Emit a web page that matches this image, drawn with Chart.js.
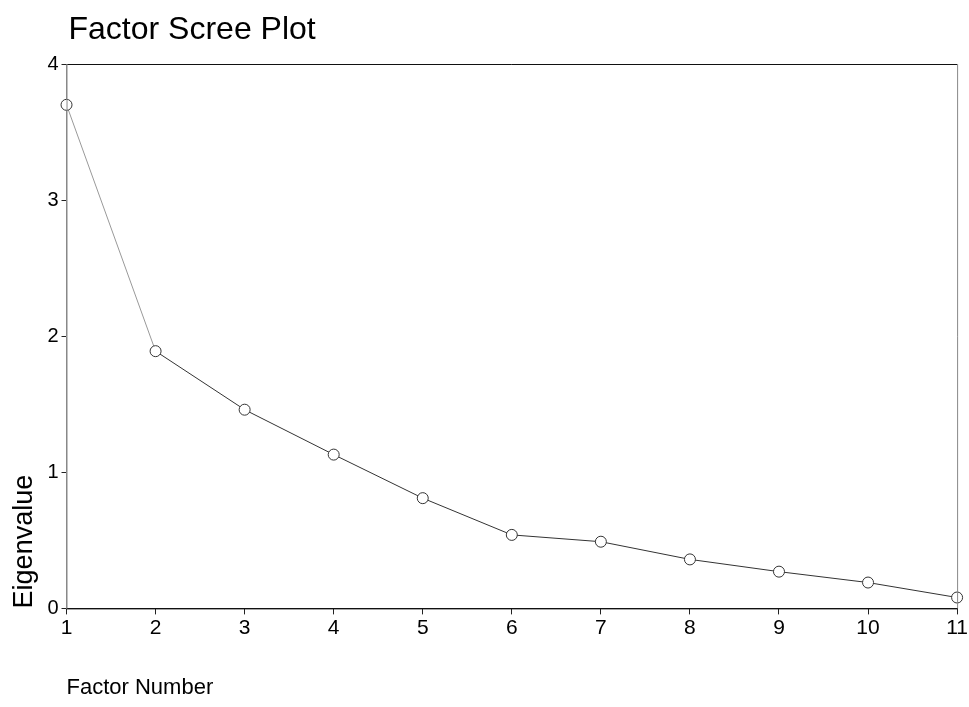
<!DOCTYPE html>
<html>
<head>
<meta charset="utf-8">
<title>Factor Scree Plot</title>
<script src="https://cdn.jsdelivr.net/npm/chart.js@4/dist/chart.umd.min.js"></script>
<style>
  html, body { margin: 0; padding: 0; background: #fff; }
  #wrap { width: 969px; height: 707px; position: relative; }
</style>
</head>
<body>
<div id="wrap"><canvas id="screeChart"></canvas></div>
<script>
// data
let factorNumbers = [1, 2, 3, 4, 5, 6, 7, 8, 9, 10, 11];
let eigenvalues = [3.70, 1.89, 1.46, 1.13, 0.81, 0.54, 0.49, 0.36, 0.27, 0.19, 0.08];
let yTicks = [0, 1, 2, 3, 4];

let chartTitle = "Factor Scree Plot";
let tickFont = '"Liberation Sans Narrow", "Liberation Sans", Arial, sans-serif';
let textFont = '"Liberation Sans", Arial, sans-serif';

/* frame round the plot area + title at its left edge */
const framePlugin = {
  id: 'frame',
  afterDraw(chart) {
    const ctx = chart.ctx;
    const a = chart.chartArea;
    ctx.save();
    ctx.lineWidth = 1;
    // top and bottom dark, sides lighter like the scan
    ctx.strokeStyle = '#111';
    ctx.beginPath();
    ctx.moveTo(a.left, a.top + 0.5);
    ctx.lineTo(a.right, a.top + 0.5);
    ctx.moveTo(a.left, a.bottom + 0.5);
    ctx.lineTo(a.right, a.bottom + 0.5);
    ctx.stroke();
    ctx.strokeStyle = '#888';
    ctx.beginPath();
    ctx.moveTo(a.left + 0.5, a.top);
    ctx.lineTo(a.left + 0.5, a.bottom);
    ctx.moveTo(a.right + 0.5, a.top);
    ctx.lineTo(a.right + 0.5, a.bottom);
    ctx.stroke();
    ctx.fillStyle = '#000';
    ctx.font = '32px ' + textFont;
    ctx.textBaseline = 'alphabetic';
    ctx.fillText(chartTitle, a.left + 2, 39);
    ctx.restore();
  }
};

let points = factorNumbers.map((f, i) => ({ x: f, y: eigenvalues[i] }));

new Chart(document.getElementById('screeChart'), {
  type: 'line',
  data: {
    datasets: [{
      label: 'Eigenvalue',
      data: points,
      borderColor: '#333',
      borderWidth: 1,
      pointRadius: 5.5,
      pointHoverRadius: 5.5,
      pointBackgroundColor: '#fff',
      pointBorderColor: '#333',
      pointBorderWidth: 1,
      segment: {
        borderColor: c => c.p0DataIndex === 0 ? '#999' : '#333'
      },
      clip: false
    }]
  },
  options: {
    responsive: true,
    maintainAspectRatio: false,
    animation: false,
    layout: { padding: { top: 64, right: 8, bottom: 6, left: 8 } },
    plugins: {
      legend: { display: false },
      tooltip: { enabled: false }
    },
    scales: {
      x: {
        type: 'linear',
        min: 1,
        max: 11,
        afterBuildTicks: axis => { axis.ticks = factorNumbers.map(v => ({ value: v })); },
        grid: { drawOnChartArea: false, tickLength: 6, color: '#222' },
        border: { color: '#111' },
        ticks: {
          color: '#000',
          padding: 1,
          maxRotation: 0,
          font: { family: tickFont, size: 21 }
        },
        title: {
          display: true,
          text: 'Factor Number',
          align: 'start',
          color: '#000',
          padding: { top: 33, bottom: 0 },
          font: { family: textFont, size: 22 }
        }
      },
      y: {
        min: 0,
        max: 4,
        afterBuildTicks: axis => { axis.ticks = yTicks.map(v => ({ value: v })); },
        grid: { drawOnChartArea: false, tickLength: 5, color: '#222' },
        border: { color: '#888' },
        ticks: {
          color: '#000',
          padding: 3,
          font: { family: tickFont, size: 20 }
        },
        title: {
          display: true,
          text: 'Eigenvalue',
          align: 'start',
          color: '#000',
          padding: { top: 0, bottom: 4 },
          font: { family: textFont, size: 27 }
        }
      }
    }
  },
  plugins: [framePlugin]
});
</script>
</body>
</html>
